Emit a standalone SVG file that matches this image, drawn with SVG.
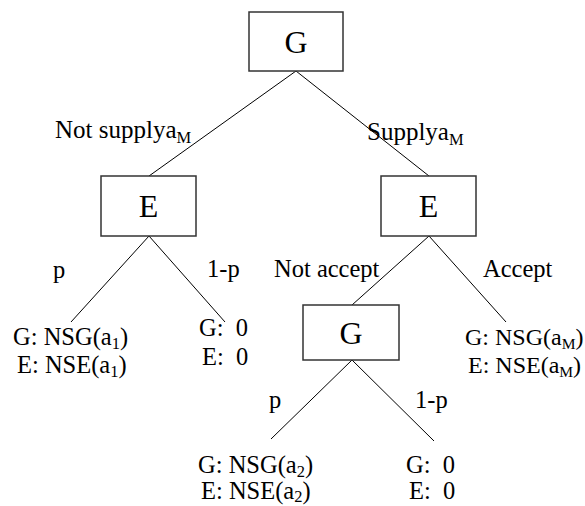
<svg xmlns="http://www.w3.org/2000/svg" width="585" height="506" viewBox="0 0 585 506" font-family="'Liberation Serif', 'Times New Roman', serif">
<style>
.box{fill:#fff;stroke:#333;stroke-width:1.5}
.node{font-size:32px;fill:#000;text-anchor:middle}
.lbl{font-size:24.5px;fill:#000}
.big{font-size:25px}
.sm{font-size:24px}
.sub{font-size:16.5px}
.sub2{font-size:15.5px}
.edge{stroke:#000;stroke-width:1;fill:none}
</style>
<rect width="585" height="506" fill="#fff"/>
<g id="connectors">
<line class="edge" x1="296" y1="71" x2="149" y2="176"/>
<line class="edge" x1="296" y1="71" x2="429" y2="176"/>
<line class="edge" x1="149" y1="236" x2="71" y2="322"/>
<line class="edge" x1="149" y1="236" x2="225" y2="322"/>
<line class="edge" x1="429" y1="236" x2="352" y2="305"/>
<line class="edge" x1="429" y1="236" x2="506" y2="322"/>
<line class="edge" x1="352" y1="360" x2="271" y2="439"/>
<line class="edge" x1="352" y1="360" x2="434" y2="441"/>
</g>
<g id="edge-labels">
<text class="lbl big" x="55" y="138">Not supplya<tspan class="sub" dy="5">M</tspan></text>
<text class="lbl big" x="367" y="140">Supplya<tspan class="sub" dy="5">M</tspan></text>
<text class="lbl" x="53" y="278">p</text>
<text class="lbl" x="207" y="277">1-p</text>
<text class="lbl" x="274" y="277">Not accept</text>
<text class="lbl" x="483" y="277">Accept</text>
<text class="lbl" x="269" y="408">p</text>
<text class="lbl" x="415" y="408">1-p</text>
</g>
<g id="node-G-root">
<rect class="box" x="249" y="12" width="94" height="59"/>
<text class="node" x="296" y="53">G</text>
</g>
<g id="node-E-left">
<rect class="box" x="101" y="176" width="95" height="60"/>
<text class="node" x="148.5" y="217">E</text>
</g>
<g id="node-E-right">
<rect class="box" x="381" y="176" width="95" height="60"/>
<text class="node" x="428.5" y="217">E</text>
</g>
<g id="node-G-lower">
<rect class="box" x="303" y="305" width="96" height="55"/>
<text class="node" x="351" y="344">G</text>
</g>
<g id="leaf-1">
<text class="lbl" x="13" y="345">G: NSG(a<tspan class="sub" dy="4">1</tspan><tspan dy="-4">)</tspan></text>
<text class="lbl" x="17" y="373">E: NSE(a<tspan class="sub" dy="4">1</tspan><tspan dy="-4">)</tspan></text>
</g>
<g id="leaf-2">
<text class="lbl" x="199" y="336" xml:space="preserve">G:  0</text>
<text class="lbl" x="202" y="365" xml:space="preserve">E:  0</text>
</g>
<g id="leaf-3">
<text class="lbl sm" x="465" y="345">G: NSG(a<tspan class="sub2" dy="4">M</tspan><tspan dy="-4">)</tspan></text>
<text class="lbl sm" x="468" y="373">E: NSE(a<tspan class="sub2" dy="4">M</tspan><tspan dy="-4">)</tspan></text>
</g>
<g id="leaf-4">
<text class="lbl" x="198" y="473">G: NSG(a<tspan class="sub" dy="4">2</tspan><tspan dy="-4">)</tspan></text>
<text class="lbl" x="201" y="499">E: NSE(a<tspan class="sub" dy="3">2</tspan><tspan dy="-3">)</tspan></text>
</g>
<g id="leaf-5">
<text class="lbl" x="406" y="473" xml:space="preserve">G:  0</text>
<text class="lbl" x="409" y="499" xml:space="preserve">E:  0</text>
</g>
</svg>
